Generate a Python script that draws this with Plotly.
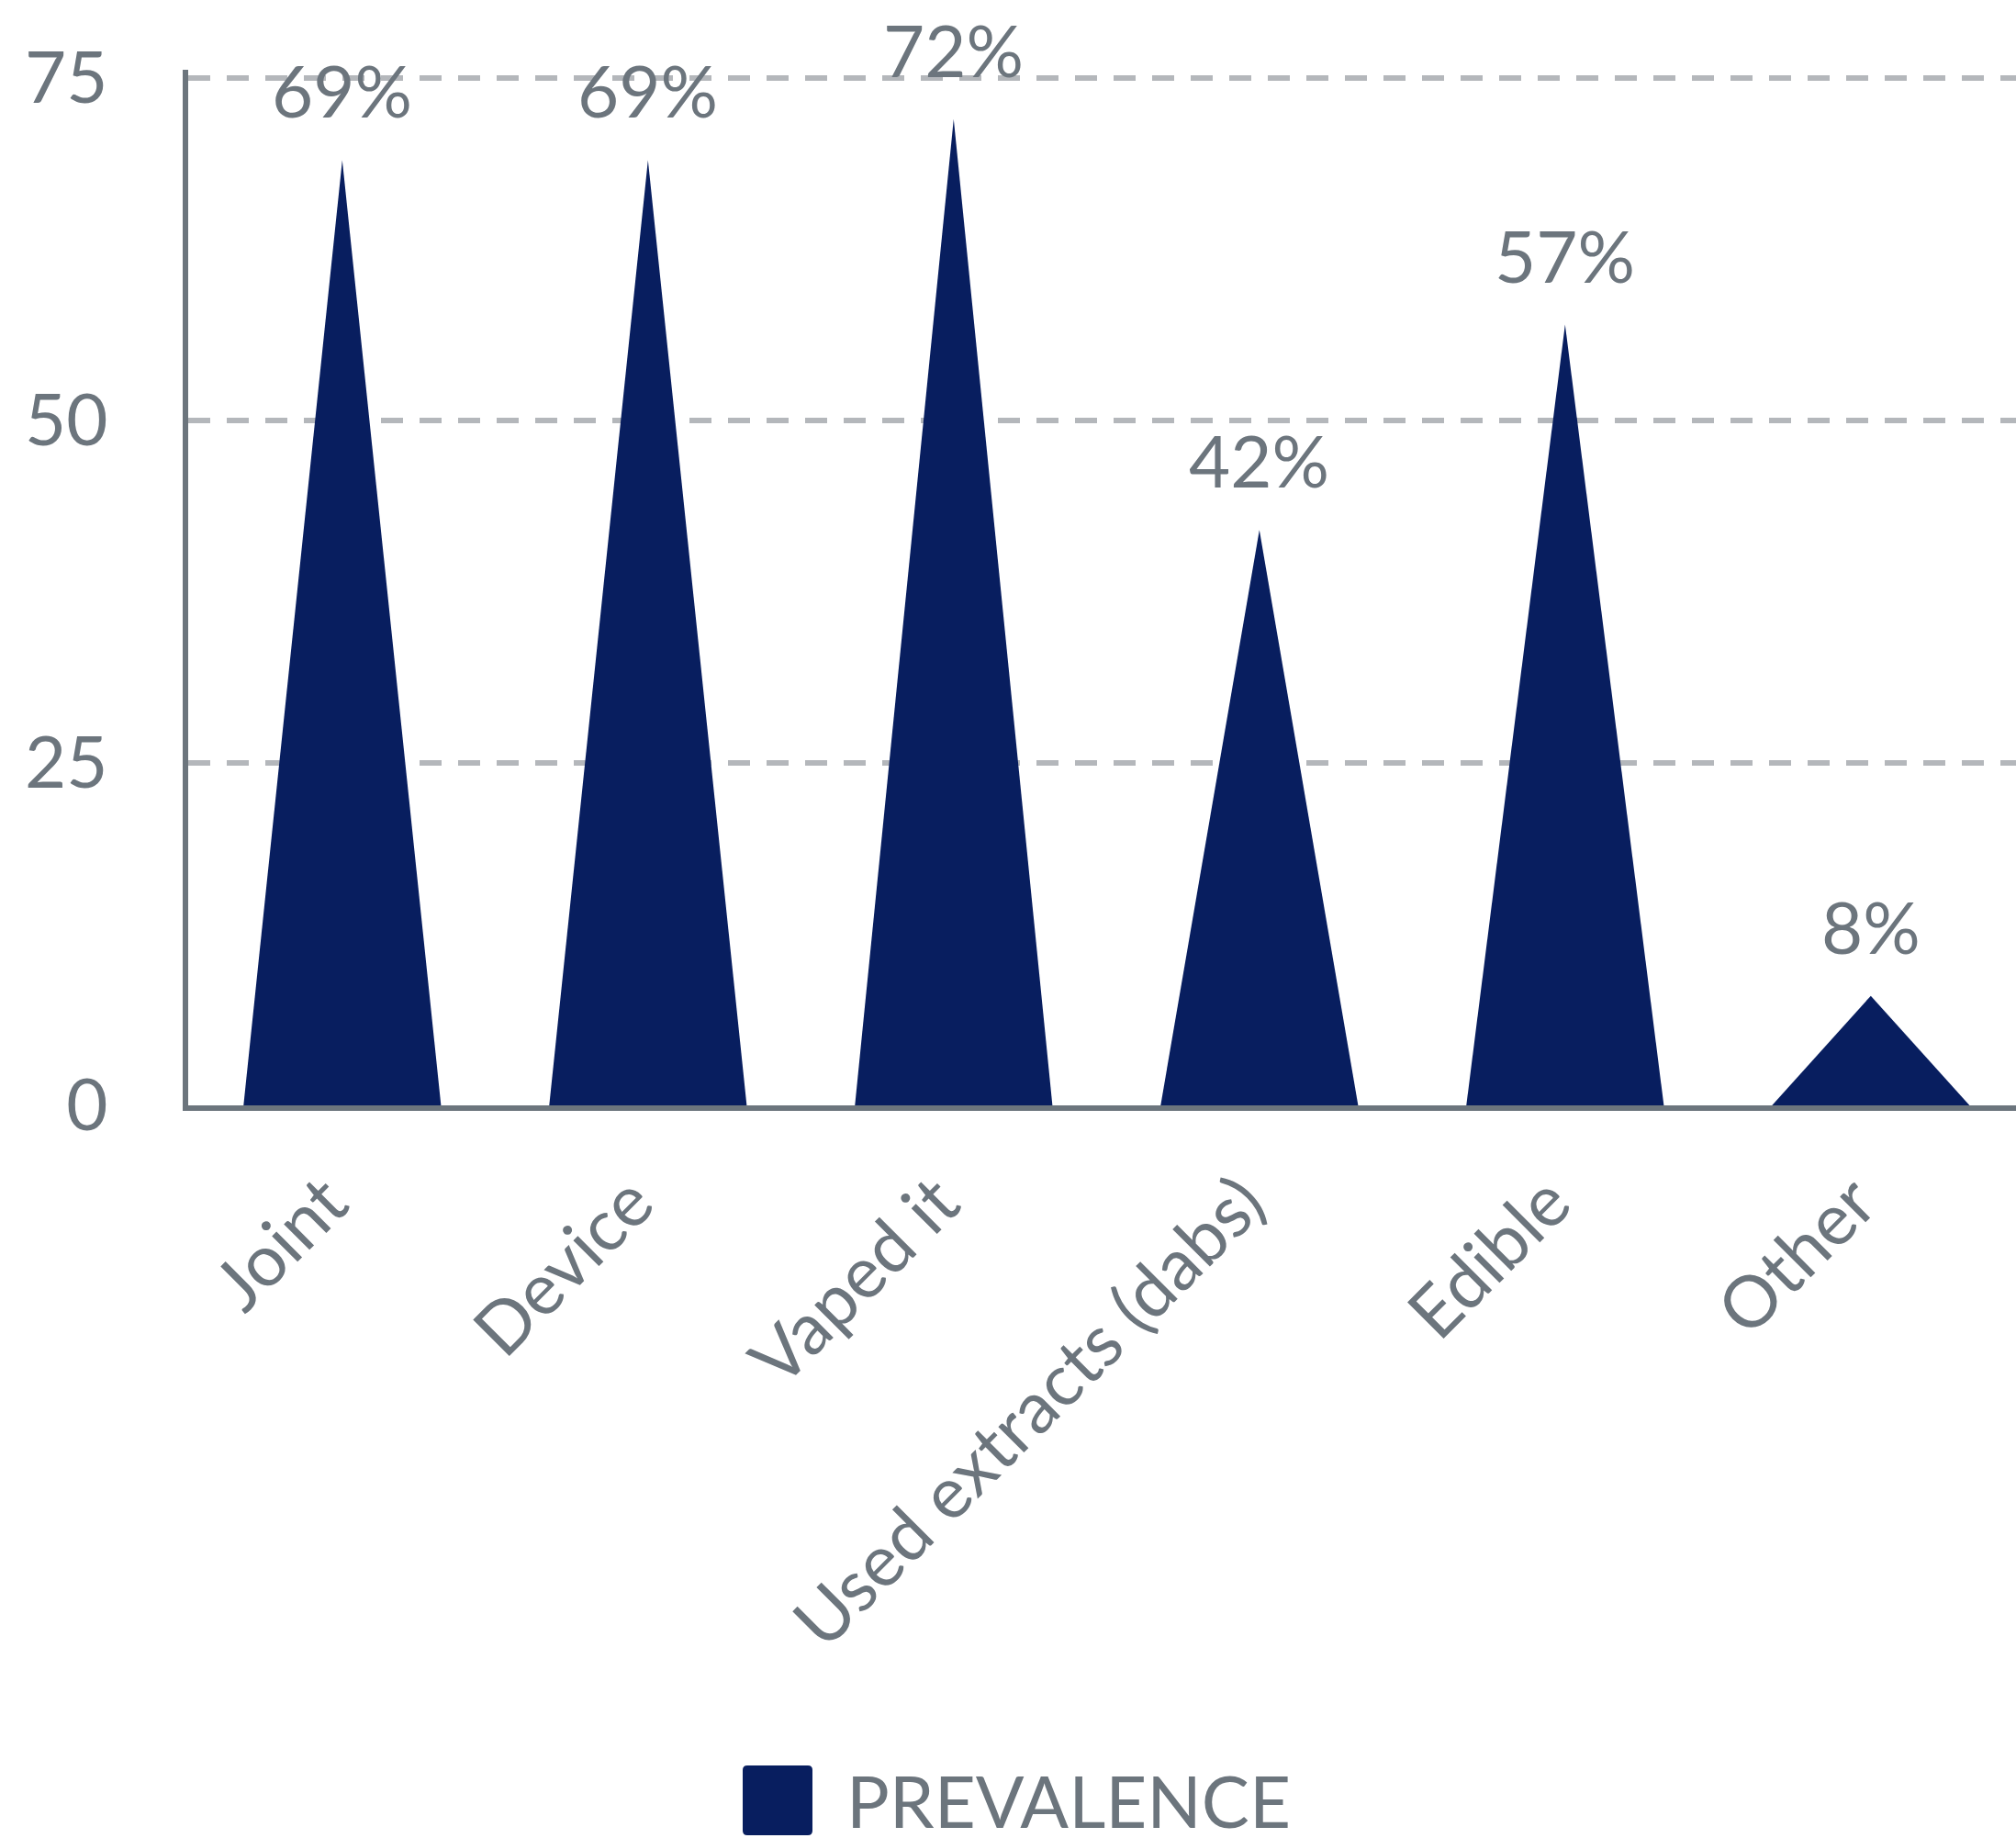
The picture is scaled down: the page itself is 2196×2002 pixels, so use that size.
import plotly.graph_objects as go

# Data
categories = ["Joint", "Device", "Vaped it", "Used extracts (dabs)", "Edible", "Other"]
prevalence = [69, 69, 72, 42, 57, 8]
y_ticks = [0, 25, 50, 75]
series_name = "PREVALENCE"

# Style
NAVY = "#081E5F"
GRAY = "#6C757D"
GRID = "#B4B7BB"
FONT = "Lato"
FS = 78
HALF = 0.323  # half base width of each triangle, in category units

fig = go.Figure()

for i, (cat, v) in enumerate(zip(categories, prevalence)):
    fig.add_trace(go.Scatter(
        x=[i - HALF, i, i + HALF, i - HALF],
        y=[0, v, 0, 0],
        mode="lines",
        fill="toself",
        fillcolor=NAVY,
        line=dict(width=0, color=NAVY),
        name=cat,
        showlegend=False,
        hoverinfo="skip",
    ))
    fig.add_annotation(
        x=i, y=v, text=f"{v}%", showarrow=False,
        xanchor="center", yanchor="middle", yshift=76,
        font=dict(family=FONT, size=FS, color=GRAY),
    )

# Plot area in pixels
L, T = 205, 76
W, H = 2196 - L, 1204 - T


def px_to_paper(px, py):
    return (px - L) / W, (T + H - py) / H


# Legend: rounded swatch + label
sx, sy = px_to_paper(847, 1961)
r, h = 5, 38
swatch = (f"M {-h + r},{-h} L {h - r},{-h} Q {h},{-h} {h},{-h + r} "
          f"L {h},{h - r} Q {h},{h} {h - r},{h} L {-h + r},{h} "
          f"Q {-h},{h} {-h},{h - r} L {-h},{-h + r} Q {-h},{-h} {-h + r},{-h} Z")
fig.add_shape(type="path", xref="paper", yref="paper",
              xsizemode="pixel", ysizemode="pixel",
              xanchor=sx, yanchor=sy, path=swatch,
              fillcolor=NAVY, line=dict(width=0))
tx, ty = px_to_paper(920, 1961)
fig.add_annotation(x=tx, y=ty, xref="paper", yref="paper", text=series_name,
                   showarrow=False, xanchor="left", yanchor="middle",
                   font=dict(family=FONT, size=FS, color=GRAY))

fig.update_layout(
    width=2196, height=2002,
    margin=dict(l=L, r=0, t=T, b=2002 - T - H),
    paper_bgcolor="white", plot_bgcolor="white",
    showlegend=False,
    font=dict(family=FONT, size=FS, color=GRAY),
)

fig.update_xaxes(
    range=[-0.504, 5.475],
    tickvals=list(range(len(categories))), ticktext=categories,
    tickangle=-45,
    tickfont=dict(family=FONT, size=FS, color=GRAY),
    ticks="outside", ticklen=23, tickcolor="rgba(0,0,0,0)",
    ticklabelshift=-17,
    showline=True, linecolor=GRAY, linewidth=6,
    showgrid=False, zeroline=False,
)
fig.update_yaxes(
    range=[0, 75.6],
    tickvals=y_ticks,
    tickfont=dict(family=FONT, size=FS, color=GRAY),
    ticks="outside", ticklen=66, tickcolor="rgba(0,0,0,0)",
    showline=True, linecolor=GRAY, linewidth=6,
    showgrid=True, gridcolor=GRID, gridwidth=6, griddash="24px,18px",
    zeroline=False,
)

fig.write_html("out.html")
